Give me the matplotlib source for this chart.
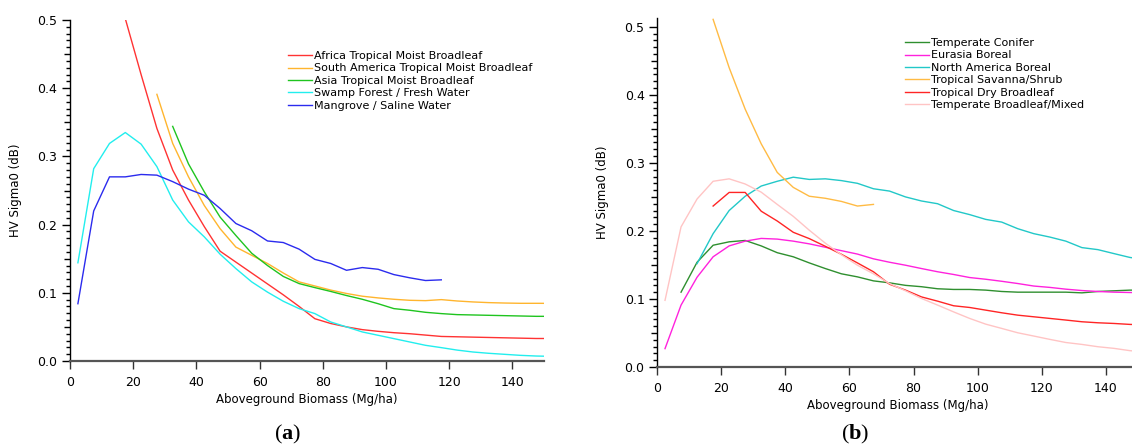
import matplotlib.pyplot as plt
from matplotlib.ticker import FixedLocator

# bin centres (Mg/ha), shared by every curve
bins = [2.5, 7.5, 12.5, 17.5, 22.5, 27.5, 32.5, 37.5, 42.5, 47.5, 52.5, 57.5,
        62.5, 67.5, 72.5, 77.5, 82.5, 87.5, 92.5, 97.5, 102.5, 107.5, 112.5,
        117.5, 122.5, 127.5, 132.5, 137.5, 142.5, 147.5, 152.5]

# ---- panel (a) ----
africa = [0.502, 0.42, 0.341, 0.28, 0.236, 0.197, 0.161, 0.145, 0.129, 0.113,
          0.097, 0.080, 0.062, 0.055, 0.050, 0.046, 0.0435, 0.0415, 0.040,
          0.038, 0.036, 0.0355, 0.035, 0.0345, 0.034, 0.0335, 0.033, 0.033]
south_america = [0.391, 0.319, 0.27, 0.228, 0.194, 0.167, 0.155, 0.143, 0.129,
                 0.116, 0.110, 0.104, 0.099, 0.095, 0.0925, 0.0905, 0.089,
                 0.0885, 0.090, 0.088, 0.0866, 0.0856, 0.085, 0.0846, 0.0846,
                 0.0845]
asia = [0.344, 0.289, 0.248, 0.211, 0.184, 0.158, 0.140, 0.124, 0.1135, 0.1076,
        0.102, 0.096, 0.0905, 0.084, 0.0768, 0.0744, 0.0714, 0.0695, 0.068,
        0.0675, 0.067, 0.0665, 0.066, 0.0655, 0.0655]
swamp = [0.144, 0.282, 0.319, 0.335, 0.318, 0.285, 0.236, 0.204, 0.182, 0.1566,
         0.1355, 0.116, 0.101, 0.0876, 0.0768, 0.0695, 0.0572, 0.050, 0.0426,
         0.0377, 0.0328, 0.0279, 0.023, 0.0196, 0.016, 0.0132, 0.0113, 0.0098,
         0.0083, 0.0073, 0.0068]
mangrove = [0.084, 0.220, 0.270, 0.270, 0.2735, 0.2725, 0.263, 0.252, 0.243,
            0.2236, 0.2016, 0.191, 0.176, 0.1737, 0.164, 0.149, 0.143, 0.133,
            0.137, 0.1345, 0.1267, 0.122, 0.118, 0.119]

# ---- panel (b) ----
conifer = [0.110, 0.154, 0.179, 0.184, 0.186, 0.178, 0.168, 0.162, 0.153,
           0.1447, 0.137, 0.1325, 0.1266, 0.1237, 0.120, 0.118, 0.115, 0.114,
           0.114, 0.113, 0.111, 0.110, 0.110, 0.110, 0.110, 0.109, 0.111,
           0.112, 0.113, 0.113]
eurasia = [0.027, 0.091, 0.132, 0.162, 0.178, 0.185, 0.189, 0.188, 0.185,
           0.181, 0.176, 0.171, 0.166, 0.159, 0.154, 0.1496, 0.1447, 0.140,
           0.136, 0.1315, 0.129, 0.126, 0.1227, 0.119, 0.117, 0.1144, 0.1124,
           0.111, 0.110, 0.1095, 0.109]
north_america = [0.152, 0.196, 0.230, 0.251, 0.266, 0.273, 0.279, 0.2757,
                 0.2766, 0.274, 0.270, 0.262, 0.2586, 0.250, 0.244, 0.240,
                 0.230, 0.224, 0.217, 0.213, 0.2033, 0.196, 0.191, 0.185,
                 0.1755, 0.1725, 0.1667, 0.161, 0.158]
savanna = [0.511, 0.440, 0.379, 0.328, 0.286, 0.264, 0.251, 0.248, 0.2434,
           0.2366, 0.239]
dry_broadleaf = [0.2366, 0.2566, 0.2566, 0.229, 0.2146, 0.198, 0.1887, 0.1774,
                 0.1657, 0.153, 0.140, 0.1217, 0.113, 0.103, 0.0968, 0.090,
                 0.0875, 0.0836, 0.0797, 0.0762, 0.0738, 0.0714, 0.069,
                 0.0665, 0.065, 0.064, 0.0626, 0.062]
temperate_broadleaf = [0.098, 0.206, 0.247, 0.273, 0.2766, 0.269, 0.257,
                       0.239, 0.2214, 0.201, 0.182, 0.165, 0.1496, 0.137,
                       0.1227, 0.112, 0.1007, 0.091, 0.081, 0.0714, 0.063,
                       0.0567, 0.0503, 0.0455, 0.0406, 0.036, 0.0332, 0.0298,
                       0.0274, 0.024, 0.022]

series_a = [
    ('Africa Tropical Moist Broadleaf', africa, '#ff3333'),
    ('South America Tropical Moist Broadleaf', south_america, '#ffb52e'),
    ('Asia Tropical Moist Broadleaf', asia, '#1fc41f'),
    ('Swamp Forest / Fresh Water', swamp, '#22eeee'),
    ('Mangrove / Saline Water', mangrove, '#2b2bee'),
]
series_b = [
    ('Temperate Conifer', conifer, '#2f8f2f'),
    ('Eurasia Boreal', eurasia, '#ff22dd'),
    ('North America Boreal', north_america, '#22c8c8'),
    ('Tropical Savanna/Shrub', savanna, '#ffbb44'),
    ('Tropical Dry Broadleaf', dry_broadleaf, '#ff2525'),
    ('Temperate Broadleaf/Mixed', temperate_broadleaf, '#ffc4c4'),
]
start_a = [17.5, 27.5, 32.5, 2.5, 2.5]
start_b = [7.5, 2.5, 12.5, 17.5, 17.5, 2.5]

# y tick levels
y_major = [0.0, 0.1, 0.2, 0.3, 0.4, 0.5]
y_mid = [0.05, 0.15, 0.25, 0.35, 0.45]
y_minor = [i / 100 for i in range(51) if i % 5 != 0]

W, H = 1132, 446
fig = plt.figure(figsize=(W / 100, H / 100), dpi=100)


def px_axes(left, right, bottom, top):
    return fig.add_axes([left / W, 1 - bottom / H, (right - left) / W, (bottom - top) / H])


def style_axes(ax, ytop):
    ax.set_xlim(0, 150)
    ax.set_ylim(0, ytop)
    for s in ('top', 'right'):
        ax.spines[s].set_visible(False)
    ax.spines['left'].set_linewidth(1.0)
    ax.spines['bottom'].set_color('#555555')
    ax.spines['bottom'].set_linewidth(1.6)
    ax.set_xticks([0, 20, 40, 60, 80, 100, 120, 140])
    ax.yaxis.set_major_locator(FixedLocator(y_major))
    ax.yaxis.set_minor_locator(FixedLocator(y_minor))
    ax.yaxis.set_major_formatter(plt.FormatStrFormatter('%.1f'))
    ax.tick_params(axis='x', direction='out', length=6, width=1.0, pad=5,
                   labelsize=9, color='#333333')
    ax.tick_params(axis='y', which='major', direction='out', length=6,
                   width=1.0, pad=3, labelsize=9)
    ax.tick_params(axis='y', which='minor', direction='out', length=3.2,
                   width=1.0)
    # slightly longer ticks half way between the labelled ones
    mid = ax.secondary_yaxis('left')
    mid.yaxis.set_major_locator(FixedLocator(y_mid))
    mid.set_yticklabels([])
    mid.tick_params(length=4.6, width=1.0)
    mid.spines['left'].set_visible(False)
    ax.set_xlabel('Aboveground Biomass (Mg/ha)', fontsize=8.5, labelpad=3)
    ax.set_ylabel('HV Sigma0 (dB)', fontsize=8.5)


def draw(ax, series, starts):
    for (label, values, color), x0 in zip(series, starts):
        i = bins.index(x0)
        ax.plot(bins[i:i + len(values)], values, color=color, lw=1.0, label=label)


legend_opts = dict(bbox_transform=fig.transFigure, loc='upper left',
                   frameon=False, fontsize=8, handlelength=2.15,
                   handletextpad=0.15, labelspacing=0.22, borderpad=0,
                   borderaxespad=0)

ax_a = px_axes(70, 544, 361, 20)
draw(ax_a, series_a, start_a)
style_axes(ax_a, 0.5)
ax_a.yaxis.set_label_coords(-0.101, 0.5)
ax_a.legend(bbox_to_anchor=(288 / W, 1 - 51 / H), **legend_opts)

ax_b = px_axes(657, 1138, 367, 18)
draw(ax_b, series_b, start_b)
style_axes(ax_b, 0.513)
ax_b.yaxis.set_label_coords(-0.0998, 0.5)
ax_b.legend(bbox_to_anchor=(905 / W, 1 - 38 / H), **legend_opts)

plt.rcParams['mathtext.fontset'] = 'custom'
plt.rcParams['mathtext.rm'] = 'Liberation Serif'
plt.rcParams['mathtext.bf'] = 'Liberation Serif:bold'
fig.text(288 / W, 1 - 434 / H, r'$\mathrm{(}\mathbf{a}\mathrm{)}$',
         fontsize=16, ha='center', va='center')
fig.text(855 / W, 1 - 434 / H, r'$\mathrm{(}\mathbf{b}\mathrm{)}$',
         fontsize=16, ha='center', va='center')

fig.savefig('out.png', dpi=100)
